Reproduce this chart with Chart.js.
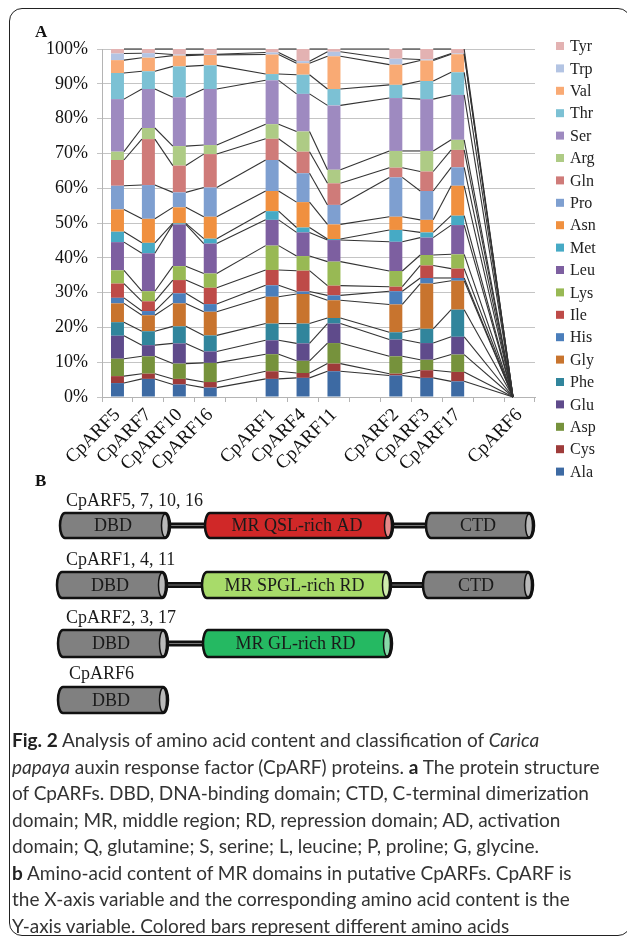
<!DOCTYPE html>
<html>
<head>
<meta charset="utf-8">
<script src="https://cdn.jsdelivr.net/npm/chart.js@4.4.1/dist/chart.umd.min.js"></script>
<style>
body { margin: 0; width: 627px; height: 945px; position: relative; background: #fff; overflow: hidden; }
#frame { position: absolute; left: 9px; top: 8px; width: 622px; height: 928px; border: 1.5px solid #222; border-radius: 13px; box-sizing: border-box; }
#chartBox { position: absolute; left: 0; top: 0; width: 627px; height: 480px; }
#partB { position: absolute; left: 0; top: 480px; }
.panel { position: absolute; font: bold 17px "Liberation Serif", serif; color: #111; }
#cap { position: absolute; left: 12px; top: 727px; font: 19px Lato, sans-serif; line-height: 26.5px; color: #333; white-space: nowrap; }
#cap b { color: #222; }
</style>
</head>
<body>
<div id="frame"></div>
<div id="chartBox"><canvas id="aminoChart"></canvas></div>
<div class="panel" style="left:35px;top:22px;">A</div>
<div class="panel" style="left:35px;top:471px;">B</div>
<canvas id="partB" width="627" height="250"></canvas>
<div id="cap"><b>Fig. 2</b> Analysis of amino acid content and classification of <i>Carica</i><br><i>papaya</i> auxin response factor (CpARF) proteins. <b>a</b> The protein structure<br>of CpARFs. DBD, DNA-binding domain; CTD, C-terminal dimerization<br>domain; MR, middle region; RD, repression domain; AD, activation<br>domain; Q, glutamine; S, serine; L, leucine; P, proline; G, glycine.<br><b>b</b> Amino-acid content of MR domains in putative CpARFs. CpARF is<br>the X-axis variable and the corresponding amino acid content is the<br>Y-axis variable. Colored bars represent different amino acids</div>

<script>
// categories, empty ones are the gaps between the groups
const categories = ['CpARF5', 'CpARF7', 'CpARF10', 'CpARF16', '', 'CpARF1', 'CpARF4', 'CpARF11', '', 'CpARF2', 'CpARF3', 'CpARF17', '', 'CpARF6'];

// % of each amino acid in the MR domain (bottom of stack first)
const ala = [4.0, 5.2, 3.6, 2.7, null, 5.2, 5.5, 7.4, null, 6.2, 5.5, 4.5, null, 0];
const cys = [2.0, 1.5, 1.6, 1.6, null, 2.2, 1.4, 2.2, null, 0.5, 2.2, 2.7, null, 0];
const asp = [5.0, 5.0, 4.4, 5.5, null, 4.9, 3.5, 5.9, null, 5.0, 3.0, 5.0, null, 0];
const glu = [6.6, 3.2, 5.8, 3.3, null, 4.0, 5.0, 5.6, null, 4.8, 4.8, 5.1, null, 0];
const phe = [3.9, 4.0, 4.9, 4.6, null, 4.8, 5.7, 1.6, null, 2.1, 4.1, 7.8, null, 0];
const gly = [5.4, 4.6, 6.6, 6.8, null, 7.7, 8.5, 5.1, null, 8.0, 13.0, 8.3, null, 0];
const his = [1.6, 1.2, 2.9, 2.2, null, 3.3, 0.7, 1.4, null, 3.8, 1.6, 0.8, null, 0];
const ile = [4.1, 2.8, 3.8, 4.7, null, 4.4, 6.0, 2.8, null, 1.3, 3.6, 2.7, null, 0];
const lys = [3.8, 2.9, 4.0, 4.1, null, 7.0, 4.2, 6.9, null, 4.5, 3.0, 4.1, null, 0];
const leu = [8.1, 10.9, 12.0, 8.6, null, 7.4, 6.8, 6.2, null, 8.4, 5.0, 8.4, null, 0];
const met = [3.0, 3.0, 0.3, 1.4, null, 2.5, 1.4, 0.3, null, 3.4, 1.5, 2.7, null, 0];
const asn = [6.4, 6.9, 4.6, 6.3, null, 5.8, 7.3, 4.2, null, 3.8, 3.6, 8.6, null, 0];
const pro = [6.8, 9.7, 4.3, 8.4, null, 8.9, 8.3, 5.6, null, 11.3, 8.3, 5.3, null, 0];
const gln = [7.4, 13.2, 7.7, 9.6, null, 6.1, 6.2, 6.2, null, 2.8, 5.6, 5.0, null, 0];
const arg = [2.4, 3.2, 5.6, 2.6, null, 4.2, 5.8, 3.9, null, 4.8, 5.9, 2.9, null, 0];
const ser = [15.1, 11.2, 14.0, 16.1, null, 12.6, 10.8, 18.5, null, 15.2, 14.9, 12.9, null, 0];
const thr = [7.5, 5.1, 8.9, 6.8, null, 1.8, 5.5, 4.7, null, 3.8, 5.2, 6.5, null, 0];
const val = [3.7, 3.9, 3.1, 3.0, null, 5.6, 3.3, 9.4, null, 5.8, 5.9, 5.2, null, 0];
const trp = [1.9, 1.3, 0.3, 0.2, null, 0.6, 0.6, 1.3, null, 1.7, 0.3, 0.2, null, 0];
const tyr = [1.3, 1.2, 1.6, 1.5, null, 1.0, 3.5, 0.8, null, 2.8, 3.0, 1.3, null, 0];

const aminoNames = ['Ala', 'Cys', 'Asp', 'Glu', 'Phe', 'Gly', 'His', 'Ile', 'Lys', 'Leu', 'Met', 'Asn', 'Pro', 'Gln', 'Arg', 'Ser', 'Thr', 'Val', 'Trp', 'Tyr'];
const aminoValues = [ala, cys, asp, glu, phe, gly, his, ile, lys, leu, met, asn, pro, gln, arg, ser, thr, val, trp, tyr];
const aminoColors = ['#3d6aa3', '#9e3b3a', '#76923c', '#5f4b8b', '#31859c', '#c8742e', '#4a7ebb', '#be4b48', '#98b954', '#7d5fa0',
                     '#46aac5', '#f0903f', '#7e9fd0', '#cf7b79', '#aecb85', '#9e8ac0', '#7cc1d4', '#f9aa74', '#b3c4e3', '#e3b2b2'];

const yTicks = [0, 10, 20, 30, 40, 50, 60, 70, 80, 90, 100];

const serifFont = '"Liberation Serif", "Times New Roman", serif';

// excel style series lines: join the top of every segment to the same segment of the next bar
const seriesLines = {
    id: 'seriesLines',
    afterDatasetsDraw(chart) {
        const ctx = chart.ctx;
        ctx.save();
        ctx.strokeStyle = '#333';
        ctx.lineWidth = 1.1;
        chart.data.datasets.forEach((ds, i) => {
            const bars = chart.getDatasetMeta(i).data;
            let prev = null;
            ds.data.forEach((v, j) => {
                if (v === null) return;
                const b = bars[j];
                if (prev) {
                    ctx.beginPath();
                    ctx.moveTo(prev.x + prev.width / 2, prev.y);
                    ctx.lineTo(b.x - b.width / 2, b.y);
                    ctx.stroke();
                }
                prev = b;
            });
        });
        ctx.restore();
    }
};

// legend on the right, Tyr at top
const sideLegend = {
    id: 'sideLegend',
    afterDraw(chart) {
        const ctx = chart.ctx;
        const ds = chart.data.datasets;
        ctx.save();
        ctx.font = '16px ' + serifFont;
        ctx.textBaseline = 'middle';
        for (let k = 0; k < ds.length; k++) {
            const d = ds[ds.length - 1 - k];
            const y = 46 + k * 22.4;
            ctx.fillStyle = d.backgroundColor;
            ctx.fillRect(556, y - 4, 8, 8);
            ctx.fillStyle = '#222';
            ctx.fillText(d.label, 570, y + 1);
        }
        ctx.restore();
    }
};

const ctxA = document.getElementById('aminoChart');
new Chart(ctxA, {
    type: 'bar',
    data: {
        labels: categories,
        datasets: aminoNames.map((name, i) => ({
            label: name,
            data: aminoValues[i],
            backgroundColor: aminoColors[i],
            borderWidth: 0,
            barPercentage: 0.42,
            categoryPercentage: 1,
            stack: 'aa'
        }))
    },
    options: {
        responsive: true,
        maintainAspectRatio: false,
        animation: false,
        layout: { padding: { left: 0, right: 92, top: 49, bottom: 0 } },
        plugins: {
            legend: { display: false },
            tooltip: { enabled: false }
        },
        scales: {
            x: {
                stacked: true,
                afterFit(scale) { scale.height = 83; },
                grid: { drawOnChartArea: false, drawTicks: true, tickLength: 5, color: '#b4b4b4', offset: true },
                border: { color: '#b4b4b4' },
                ticks: {
                    autoSkip: false,
                    maxRotation: 45,
                    minRotation: 45,
                    padding: 2,
                    color: '#111',
                    font: { family: serifFont, size: 19 }
                }
            },
            y: {
                stacked: true,
                min: 0,
                max: 100,
                afterFit(scale) { scale.width = 102; },
                afterBuildTicks(scale) { scale.ticks = yTicks.map(v => ({ value: v })); },
                grid: { color: '#c4c4c4', tickLength: 5 },
                border: { color: '#b4b4b4' },
                ticks: {
                    padding: 9,
                    color: '#111',
                    font: { family: serifFont, size: 18 },
                    callback: v => v + '%'
                }
            }
        }
    },
    plugins: [seriesLines, sideLegend]
});

// part B: protein structure schematic
const cv = document.getElementById('partB');
const g = cv.getContext('2d');
g.translate(0, -480);

function linker(x1, x2, y) {
    g.fillStyle = '#111';
    g.fillRect(x1 - 2, y - 3, x2 - x1 + 4, 6);
    g.fillStyle = '#777';
    g.fillRect(x1 - 2, y - 0.5, x2 - x1 + 4, 1);
}

function cylinder(x1, x2, top, h, fill, text) {
    const rx = 5, ry = h / 2, cy = top + ry;
    g.beginPath();
    g.moveTo(x1 + rx, top);
    g.lineTo(x2 - rx, top);
    g.ellipse(x2 - rx, cy, rx, ry, 0, -Math.PI / 2, Math.PI / 2);
    g.lineTo(x1 + rx, top + h);
    g.ellipse(x1 + rx, cy, rx, ry, 0, Math.PI / 2, Math.PI * 1.5);
    g.closePath();
    g.fillStyle = fill;
    g.fill();
    g.lineWidth = 2.5;
    g.strokeStyle = '#111';
    g.stroke();
    // end cap
    g.beginPath();
    g.ellipse(x2 - rx, cy, rx - 1.5, ry - 1, 0, 0, Math.PI * 2);
    g.fillStyle = 'rgba(255,255,255,0.45)';
    g.fill();
    g.lineWidth = 1.5;
    g.stroke();
    g.fillStyle = '#1a1a1a';
    g.font = '18px ' + serifFont;
    g.textAlign = 'center';
    g.textBaseline = 'middle';
    g.fillText(text, (x1 + x2) / 2 - 2, cy + 1);
}

function rowLabel(text, x, y) {
    g.fillStyle = '#1a1a1a';
    g.font = '18px ' + serifFont;
    g.textAlign = 'left';
    g.textBaseline = 'alphabetic';
    g.fillText(text, x, y);
}

const grey = '#808080';

rowLabel('CpARF5, 7, 10, 16', 66, 506);
linker(170, 205, 525.5);
linker(393, 426, 525.5);
cylinder(60, 170, 513, 25, grey, 'DBD');
cylinder(205, 393, 513, 25, '#d02828', 'MR QSL-rich AD');
cylinder(426, 534, 513, 25, grey, 'CTD');

rowLabel('CpARF1, 4, 11', 66, 565);
linker(167, 202, 585);
linker(391, 423, 585);
cylinder(57, 167, 572, 26, grey, 'DBD');
cylinder(202, 391, 572, 26, '#a8db6a', 'MR SPGL-rich RD');
cylinder(423, 533, 572, 26, grey, 'CTD');

rowLabel('CpARF2, 3, 17', 66, 623);
linker(168, 203, 643.5);
cylinder(58, 168, 630, 27, grey, 'DBD');
cylinder(203, 392, 630, 27, '#25b962', 'MR GL-rich RD');

rowLabel('CpARF6', 69, 679);
cylinder(58, 168, 687, 26, grey, 'DBD');
</script>
</body>
</html>
